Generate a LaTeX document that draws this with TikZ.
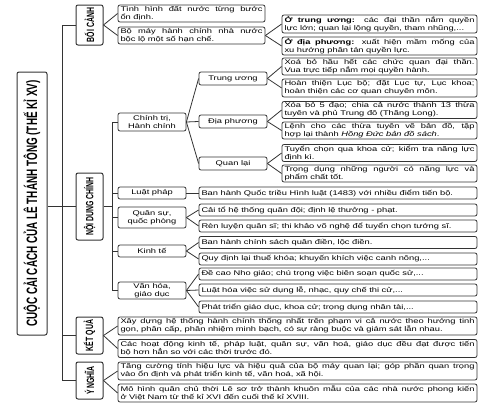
\documentclass[tikz,border=0pt]{standalone}
\usepackage{fontspec}
\setmainfont{Liberation Sans}
\newfontfamily\bodyfont{Liberation Sans}[FakeStretch=1.37]
\newfontfamily\headfont{Liberation Sans}[FakeStretch=0.66]
\definecolor{edgegray}{HTML}{333333}

\tikzset{
  box/.style={draw=edgegray, line width=0.8pt, rounded corners=2pt, fill=white,
    inner xsep=2.5pt, inner ysep=0.6pt,
    font=\bodyfont\fontsize{6.8}{7.9}\selectfont},
  mid/.style={box, minimum width=68pt, align=center},
  leaf/.style={box, text width=#1, align=justify},
  head/.style={box, rotate=90, line width=1pt, minimum height=27pt,
    font=\headfont\bfseries\fontsize{10.5}{11}\selectfont},
  link/.style={draw=edgegray, line width=0.8pt}
}

\begin{document}
\begin{tikzpicture}[x=1pt, y=-1pt]
    \useasboundingbox (0,0) rectangle (485,407);

    \node[head, minimum width=263pt, minimum height=30pt,
      font=\headfont\bfseries\fontsize{15}{16}\selectfont] (title) at (32,203.5)
      {CUỘC CẢI CÁCH CỦA LÊ THÁNH TÔNG (THẾ KỈ XV)};

    \node[head, minimum width=40pt] (boicanh) at (89.5,25) {BỐI CẢNH};
    \node[head, minimum width=67pt] (noidung) at (89.5,206.5) {NỘI DUNG CHÍNH};
    \node[head, minimum width=37pt] (ketqua) at (89.5,335.5) {KẾT QUẢ};
    \node[head, minimum width=37pt] (ynghia) at (89.5,380.5) {Ý NGHĨA};

    \node[leaf=142pt, minimum height=17pt] (bc1) at (191.5,13.5)
      {Tình hình đất nước từng bước\linebreak ổn định.};
    \node[leaf=142pt, minimum height=17pt] (bc2) at (191.5,35.5)
      {Bộ máy hành chính nhà nước\linebreak bộc lộ một số hạn chế.};
    \node[leaf=190pt, minimum height=18pt] (bctw) at (379.5,24)
      {\textbf{Ở trung ương:} các đại thần nắm quyền\linebreak lực lớn; quan lại lộng quyền, tham nhũng,...};
    \node[leaf=190pt, minimum height=18pt] (bcdp) at (379.5,46)
      {\textbf{Ở địa phương:} xuất hiện mầm mống của\linebreak xu hướng phân tán quyền lực.};

    \node[mid, minimum height=18pt] (chinhtri) at (152,122) {Chính trị,\\ Hành chính};
    \node[mid, minimum height=12pt] (luatphap) at (152,193) {Luật pháp};
    \node[mid, minimum height=21pt] (quansu) at (152,217.5) {Quân sự,\\ quốc phòng};
    \node[mid, minimum height=12pt] (kinhte) at (152,251) {Kinh tế};
    \node[mid, minimum height=17pt] (vanhoa) at (152,290.5) {Văn hóa,\\ giáo dục};

    \node[mid, minimum height=13pt] (trunguong) at (233,78.5) {Trung ương};
    \node[mid, minimum height=13pt] (diaphuong) at (233,121.5) {Địa phương};
    \node[mid, minimum height=13pt] (quanlai) at (233,163.5) {Quan lại};

    \node[leaf=190pt, minimum height=17pt] (tu1) at (379.5,66.5)
      {Xoá bỏ hầu hết các chức quan đại thần.\linebreak Vua trực tiếp nắm mọi quyền hành.};
    \node[leaf=190pt, minimum height=18pt] (tu2) at (379.5,88)
      {Hoàn thiện Lục bộ; đặt Lục tự, Lục khoa;\linebreak hoàn thiện các cơ quan chuyên môn.};
    \node[leaf=190pt, minimum height=17pt] (dp1) at (379.5,110)
      {Xóa bỏ 5 đạo; chia cả nước thành 13 thừa\linebreak tuyên và phủ Trung đô (Thăng Long).};
    \node[leaf=190pt, minimum height=17pt] (dp2) at (379.5,130.5)
      {Lệnh cho các thừa tuyên vẽ bản đồ, tập\linebreak hợp lại thành \textit{Hồng Đức bản đồ sách}.};
    \node[leaf=190pt, minimum height=17pt] (ql1) at (379.5,153)
      {Tuyển chọn qua khoa cử; kiểm tra năng lực\linebreak định kì.};
    \node[leaf=190pt, minimum height=17pt] (ql2) at (379.5,173.5)
      {Trọng dụng những người có năng lực và\linebreak phẩm chất tốt.};

    \node[leaf=273pt, minimum height=12pt] (lp1) at (338,193)
      {Ban hành Quốc triều Hình luật (1483) với nhiều điểm tiến bộ.};
    \node[leaf=273pt, minimum height=12pt] (qs1) at (338,210)
      {Cải tổ hệ thống quân đội; định lệ thưởng - phạt.};
    \node[leaf=273pt, minimum height=12pt] (qs2) at (338,226)
      {Rèn luyện quân sĩ; thi khảo võ nghệ để tuyển chọn tướng sĩ.};
    \node[leaf=273pt, minimum height=12pt] (kt1) at (338,242.5)
      {Ban hành chính sách quân điền, lộc điền.};
    \node[leaf=273pt, minimum height=12pt] (kt2) at (338,259)
      {Quy định lại thuế khóa; khuyến khích việc canh nông,...};
    \node[leaf=273pt, minimum height=12pt] (vh1) at (338,274)
      {Đề cao Nho giáo; chú trọng việc biên soạn quốc sử,...};
    \node[leaf=273pt, minimum height=12pt] (vh2) at (338,290)
      {Luật hóa việc sử dụng lễ, nhạc, quy chế thi cử,...};
    \node[leaf=273pt, minimum height=12pt] (vh3) at (338,307)
      {Phát triển giáo dục, khoa cử; trọng dụng nhân tài,...};

    \node[leaf=354pt, minimum height=18pt] (kq1) at (297.5,326)
      {Xây dựng hệ thống hành chính thống nhất trên phạm vi cả nước theo hướng tinh\linebreak gọn, phân cấp, phân nhiệm minh bạch, có sự ràng buộc và giám sát lẫn nhau.};
    \node[leaf=354pt, minimum height=18pt] (kq2) at (297.5,348.5)
      {Các hoạt động kinh tế, pháp luật, quân sự, văn hoá, giáo dục đều đạt được tiến\linebreak bộ hơn hẳn so với các thời trước đó.};
    \node[leaf=354pt, minimum height=18pt] (yn1) at (297.5,371)
      {Tăng cường tính hiệu lực và hiệu quả của bộ máy quan lại; góp phần quan trọng\linebreak vào ổn định và phát triển kinh tế, văn hoá, xã hội.};
    \node[leaf=354pt, minimum height=18pt] (yn2) at (297.5,393)
      {Mô hình quân chủ thời Lê sơ trở thành khuôn mẫu của các nhà nước phong kiến\linebreak ở Việt Nam từ thế kỉ XVI đến cuối thế kỉ XVIII.};

    \coordinate (trunk) at (62,0);
    \coordinate (spine) at (112,0);
    \draw[link] (title.south |- noidung) -- (noidung.north);
    \draw[link] (trunk |- boicanh) -- (trunk |- ynghia);
    \foreach \h in {boicanh,ketqua,ynghia}
      \draw[link] (trunk |- \h) -- (\h.north);
    \draw[link] (noidung.south) -- (spine |- noidung);
    \draw[link] (spine |- chinhtri) -- (spine |- vanhoa);
    \foreach \h in {chinhtri,luatphap,quansu,kinhte,vanhoa}
      \draw[link] (spine |- \h) -- (\h.west);

    \foreach \a/\b in {boicanh/bc1, boicanh/bc2, ketqua/kq1, ketqua/kq2,
        ynghia/yn1, ynghia/yn2}
      \draw[link] (\a.south) -- (\b.west);
    \foreach \a/\b in {bc2/bctw, bc2/bcdp,
        chinhtri/trunguong, chinhtri/diaphuong, chinhtri/quanlai,
        trunguong/tu1, trunguong/tu2, diaphuong/dp1, diaphuong/dp2,
        quanlai/ql1, quanlai/ql2, luatphap/lp1, quansu/qs1, quansu/qs2,
        kinhte/kt1, kinhte/kt2, vanhoa/vh1, vanhoa/vh2, vanhoa/vh3}
      \draw[link] (\a.east) -- (\b.west);
\end{tikzpicture}
\end{document}
